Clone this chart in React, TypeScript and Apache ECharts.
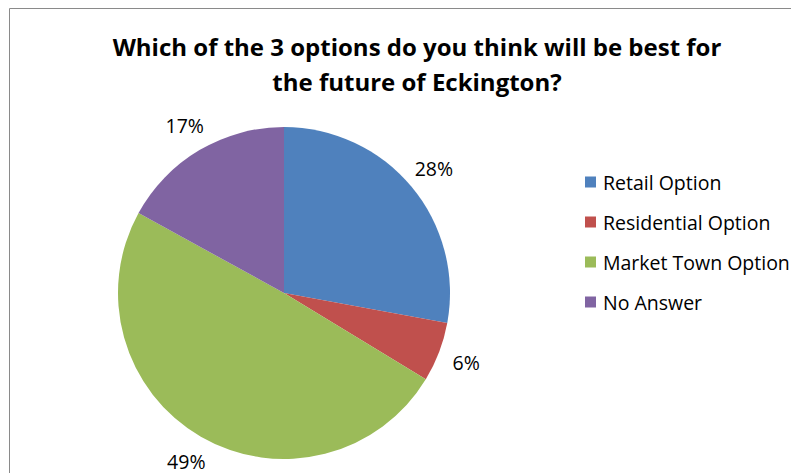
import React, { useEffect, useRef } from "react";
import * as echarts from "echarts";

const categories = ["Retail Option", "Residential Option", "Market Town Option", "No Answer"];
const values = [27.9, 5.8, 49.3, 17.0];
const colors = ["#4F81BD", "#C0504D", "#9BBB59", "#8064A2"];
const titleText = "Which of the 3 options do you think will be best for\nthe future of Eckington?";

export default function App() {
  const ref = useRef<HTMLDivElement>(null);
  useEffect(() => {
    if (!ref.current) return;
    const chart = echarts.init(ref.current, null, { renderer: "svg" });
    const data = categories.map((name, i) => ({ name, value: values[i], itemStyle: { color: colors[i] } }));
    chart.setOption({
      animation: false,
      backgroundColor: "#ffffff",
      title: {
        text: titleText,
        left: 412,
        textAlign: "center",
        top: 24,
        textStyle: {
          fontFamily: "Open Sans",
          fontWeight: "bold",
          fontSize: 24,
          lineHeight: 35,
          color: "#000000",
        },
      },
      legend: {
        orient: "vertical",
        left: 580,
        top: 165,
        itemWidth: 11,
        itemHeight: 11,
        itemGap: 16,
        icon: "rect",
        textStyle: { fontFamily: "Open Sans", fontSize: 19.5, color: "#000000", lineHeight: 24, padding: [0, 0, 0, 2] },
        data: categories,
      },
      graphic: [
        {
          type: "rect",
          shape: { x: 9.5, y: 8.5, width: 900, height: 600 },
          style: { fill: "none", stroke: "#8a8a8a", lineWidth: 1 },
          silent: true,
        },
      ],
      series: [
        {
          type: "pie",
          center: [284, 293],
          radius: 166,
          startAngle: 90,
          clockwise: true,
          label: { show: false },
          labelLine: { show: false },
          emphasis: { disabled: true },
          data,
        },
        {
          type: "pie",
          center: [284, 293],
          radius: [184, 200],
          startAngle: 90,
          clockwise: true,
          silent: true,
          itemStyle: { color: "rgba(0,0,0,0)" },
          label: {
            show: true,
            position: "inside",
            formatter: (p: any) => Math.round(p.percent) + "%",
            fontFamily: "Open Sans",
            fontSize: 19.5,
            lineHeight: 17,
            color: "#000000",
          },
          labelLine: { show: false },
          emphasis: { disabled: true },
          data: categories.map((name, i) => ({ name, value: values[i] })),
        },
      ],
    });
    return () => chart.dispose();
  }, []);
  return <div ref={ref} style={{ position: "absolute", left: 0, top: 0, width: 791, height: 473 }} />;
}
